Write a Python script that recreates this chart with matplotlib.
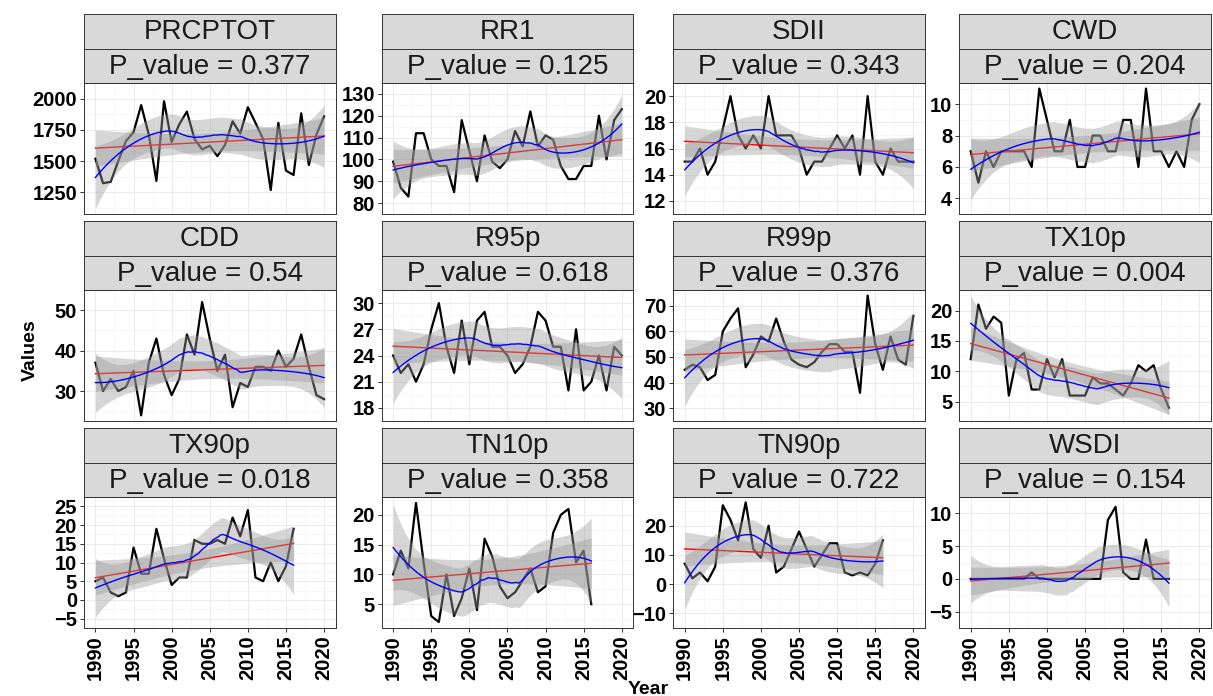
import numpy as np
import matplotlib
matplotlib.use('Agg')
import matplotlib.pyplot as plt

plt.rcParams['font.family'] = ['Liberation Sans', 'DejaVu Sans']

# ---- data ----
years_prcp = list(range(1990, 2021))   # precipitation indices 1990-2020
years_temp = list(range(1990, 2017))   # temperature indices 1990-2016

prcptot = [1518, 1322, 1333, 1500, 1660, 1730, 1948, 1712, 1340, 1979, 1652, 1794, 1896, 1676, 1593, 1622,
           1539, 1629, 1818, 1719, 1931, 1806, 1676, 1267, 1806, 1423, 1388, 1882, 1468, 1712, 1858]
rr1 = [99, 87, 83, 112, 112, 100, 97, 97, 85, 118, 104, 90, 111, 99, 96, 100,
       113, 106, 122, 106, 111, 109, 97, 91, 91, 97, 97, 120, 100, 118, 123]
sdii = [15, 15, 16, 14, 15, 17.5, 20, 17, 16, 17, 16, 20, 17, 17, 17, 16,
        14, 15, 15, 16, 17, 16, 17, 14, 20, 15, 14, 16, 15, 15, 15]
cwd = [7, 5, 7, 6, 7, 7, 7, 7, 6, 11, 9, 7, 7, 9, 6, 6,
       8, 8, 7, 7, 9, 9, 6, 11, 7, 7, 6, 7, 6, 9, 10]
cdd = [37, 30, 33, 30, 31, 35, 24, 37, 43, 34, 29, 33, 44, 39, 52, 43,
       35, 39, 26, 32, 31, 36, 36, 35, 40, 36, 38, 44, 36, 29, 28]
r95p = [24, 22, 23, 21, 23, 27, 30, 25, 22, 28, 23, 28, 29, 25, 25, 24,
        22, 23, 25, 29, 28, 25, 25, 20, 27, 20, 21, 24, 20, 25, 24]
r99p = [45, 47, 46, 41, 43, 60, 65, 69, 46, 51, 58, 56, 65, 56, 49, 47,
        46, 48, 52, 55, 55, 52, 52, 36, 74, 55, 45, 58, 49, 47, 66]
tx10p = [12, 21, 17, 19, 18, 6, 12, 13, 7, 7, 12, 9, 12, 6, 6, 6,
         9, 8, 8, 7, 6, 8, 11, 10, 11, 7, 4]
tx90p = [5, 6, 2, 1, 2, 14, 7, 7, 19, 11, 4, 6, 6, 16, 15, 15,
         16, 15, 22, 17, 24, 6, 5, 10, 5, 9, 19]
tn10p = [10, 14, 11, 22, 12, 3, 2, 10, 3, 6, 11, 4, 16, 13, 8, 6,
         7, 9, 11, 7, 8, 17, 20, 21, 12, 14, 5]
tn90p = [7, 2, 4, 1, 6, 27, 22, 15, 28, 12, 9, 20, 4, 6, 12, 18,
         12, 6, 10, 14, 14, 4, 3, 4, 3, 7, 15]
wsdi = [0, 0, 0, 0, 0, 0, 0, 0, 1, 0, 0, 0, 0, 0, 0, 0,
        0, 0, 9, 11, 1, 0, 0, 6, 0, 0, 0]

names = ['PRCPTOT', 'RR1', 'SDII', 'CWD', 'CDD', 'R95p', 'R99p', 'TX10p',
         'TX90p', 'TN10p', 'TN90p', 'WSDI']
pvals = ['0.377', '0.125', '0.343', '0.204', '0.54', '0.618', '0.376', '0.004',
         '0.018', '0.358', '0.722', '0.154']
series = [prcptot, rr1, sdii, cwd, cdd, r95p, r99p, tx10p, tx90p, tn10p, tn90p, wsdi]
yticks = [[1250, 1500, 1750, 2000], [80, 90, 100, 110, 120, 130], [12, 14, 16, 18, 20], [4, 6, 8, 10],
          [30, 40, 50], [18, 21, 24, 27, 30], [30, 40, 50, 60, 70], [5, 10, 15, 20],
          [-5, 0, 5, 10, 15, 20, 25], [5, 10, 15, 20], [-10, 0, 10, 20], [-5, 0, 5, 10]]
xticks = [1990, 1995, 2000, 2005, 2010, 2015, 2020]


def tq975(df):
    # student t 97.5% quantile (Cornish-Fisher expansion)
    z = 1.959964
    return (z + (z**3 + z) / (4 * df) + (5 * z**5 + 16 * z**3 + 3 * z) / (96 * df**2)
            + (3 * z**7 + 19 * z**5 + 17 * z**3 - 15 * z) / (384 * df**3))


def lm_band(x, y, xs):
    n = len(x)
    b, a = np.polyfit(x, y, 1)
    res = y - (a + b * x)
    s = np.sqrt(np.sum(res**2) / (n - 2))
    fit = a + b * xs
    se = s * np.sqrt(1 / n + (xs - x.mean())**2 / np.sum((x - x.mean())**2))
    t = tq975(n - 2)
    return fit, fit - t * se, fit + t * se


def loess_row(x, x0, q):
    # weights of local quadratic fit at x0 (span 0.75, tricube)
    d = np.abs(x - x0)
    h = np.sort(d)[q - 1] * 1.0000001
    w = np.clip(1 - (d / h)**3, 0, None)**3
    X = np.column_stack([np.ones(len(x)), x - x0, (x - x0)**2])
    XtW = X.T * w
    return np.linalg.solve(XtW @ X, XtW)[0]


def loess_band(x, y, xs, span=0.75):
    n = len(x)
    q = int(np.floor(n * span))
    L = np.array([loess_row(x, xi, q) for xi in x])
    Ls = np.array([loess_row(x, xi, q) for xi in xs])
    fit = Ls @ y
    R = np.eye(n) - L
    M = R.T @ R
    d1 = np.trace(M)
    d2 = np.trace(M @ M)
    s = np.sqrt(np.sum((R @ y)**2) / d1)
    se = s * np.sqrt(np.sum(Ls**2, axis=1))
    t = tq975(d1**2 / d2)
    return fit, fit - t * se, fit + t * se


W, H = 1213, 696
fig = plt.figure(figsize=(W / 100, H / 100), dpi=100)


def px_axes(x0, y0, w, h):
    return fig.add_axes([x0 / W, 1 - (y0 + h) / H, w / W, h / H])


col_left = [84, 381.7, 673.3, 959.3]
row_top = [83, 290, 497]
pw, ph, sh = 251.5, 131, 34.5
edge = '#333333'

for i in range(12):
    r, c = divmod(i, 4)
    y = np.array(series[i], dtype=float)
    x = np.array(years_prcp if len(y) == 31 else years_temp, dtype=float)
    xs = np.linspace(x.min(), x.max(), 80)

    ax = px_axes(col_left[c], row_top[r], pw, ph)
    ax.plot(x, y, color='black', lw=1.6, zorder=2)

    f1, lo1, hi1 = lm_band(x, y, xs)
    ax.fill_between(xs, lo1, hi1, color='#999999', alpha=0.4, lw=0, zorder=3)
    ax.plot(xs, f1, color='red', lw=1.0, zorder=4)

    f2, lo2, hi2 = loess_band(x, y, xs)
    ax.fill_between(xs, lo2, hi2, color='#999999', alpha=0.4, lw=0, zorder=5)
    ax.plot(xs, f2, color='blue', lw=1.0, zorder=6)

    # ggplot style limits: all layers + 5% expansion
    ymin = min(y.min(), lo1.min(), lo2.min())
    ymax = max(y.max(), hi1.max(), hi2.max())
    pad = (ymax - ymin) * 0.05
    ax.set_ylim(ymin - pad, ymax + pad)
    ax.set_xlim(1988.5, 2021.5)

    yt = yticks[i]
    ax.set_yticks(yt)
    step = yt[1] - yt[0]
    ax.set_yticks([v + step / 2 for v in [yt[0] - step] + yt], minor=True)
    ax.set_xticks(xticks)
    ax.set_xticks([v + 2.5 for v in xticks[:-1]], minor=True)
    ax.grid(which='major', color='#ebebeb', lw=0.7)
    ax.grid(which='minor', color='#f2f2f2', lw=0.4)
    ax.set_axisbelow(True)
    ax.tick_params(which='minor', length=0)
    ax.tick_params(which='major', length=3, width=0.7, color=edge, pad=2)
    for lab in ax.get_yticklabels():
        lab.set_fontsize(14.5)
        lab.set_fontweight('bold')
    if r < 2:
        ax.tick_params(axis='x', which='both', length=0, labelbottom=False)
    else:
        ax.set_xticklabels([str(v) for v in xticks], rotation=90, fontsize=14.5, fontweight='bold')
    for sp in ax.spines.values():
        sp.set_color(edge)
        sp.set_linewidth(0.7)

    # two strips on top of each panel
    for j, txt in enumerate([names[i], 'P_value = ' + pvals[i]]):
        sax = px_axes(col_left[c], row_top[r] - 2 * sh + j * sh, pw, sh)
        sax.set_facecolor('#d9d9d9')
        sax.set_xticks([])
        sax.set_yticks([])
        for sp in sax.spines.values():
            sp.set_color(edge)
            sp.set_linewidth(0.7)
        sax.text(0.5, 0.47, txt, ha='center', va='center', fontsize=20, color='#1a1a1a',
                 transform=sax.transAxes)

fig.text(30 / W, 1 - 350 / H, 'Values', rotation=90, ha='center', va='center',
         fontsize=14, fontweight='bold')
fig.text(648 / W, 1 - 689 / H, 'Year', ha='center', va='center', fontsize=14, fontweight='bold')

plt.savefig('out.png', dpi=100)
